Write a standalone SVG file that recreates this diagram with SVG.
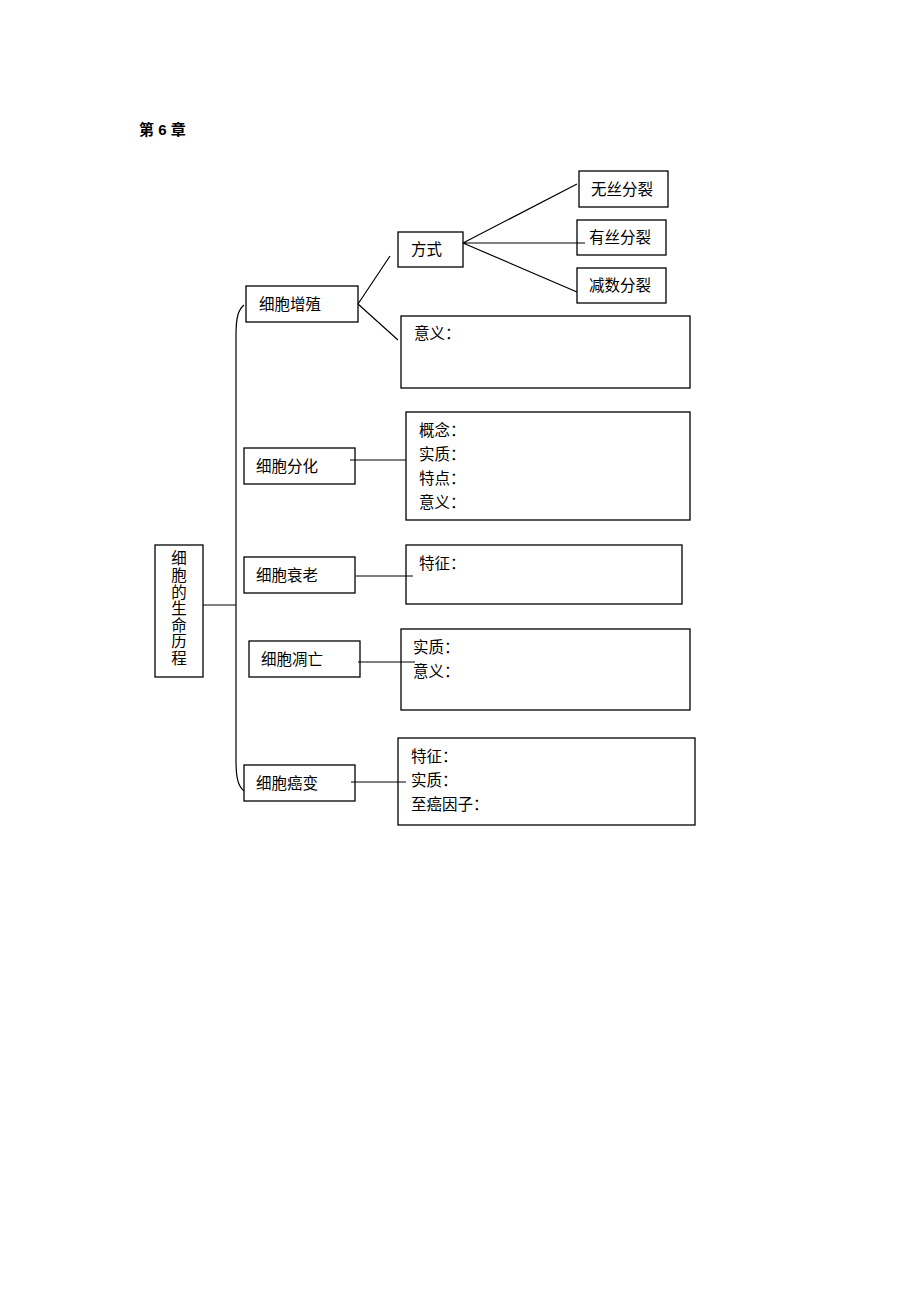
<svg xmlns="http://www.w3.org/2000/svg" width="920" height="1302" viewBox="0 0 920 1302">
<style>
.b{fill:#fff;stroke:#000;stroke-width:1.3}
.c{fill:none;stroke:#000;stroke-width:1.2}
text{font-family:"Liberation Serif","Noto Sans CJK SC",serif;font-size:15.5px;fill:#000}
.t{font-family:"Liberation Sans","Noto Sans CJK SC",sans-serif;font-weight:bold;font-size:15px}
</style>
<rect width="920" height="1302" fill="#fff"/>
<text class="t" x="139" y="135">第 6 章</text>
<g id="root"><rect class="b" x="155" y="545" width="48" height="132"/>
<text x="179" text-anchor="middle"><tspan x="179" y="564">细</tspan><tspan x="179" y="581">胞</tspan><tspan x="179" y="598">的</tspan><tspan x="179" y="614">生</tspan><tspan x="179" y="631">命</tspan><tspan x="179" y="647">历</tspan><tspan x="179" y="664">程</tspan></text></g>
<g id="zengzhi"><rect class="b" x="246" y="286" width="112" height="36"/><text x="259" y="310">细胞增殖</text></g>
<g id="fangshi"><rect class="b" x="398" y="232" width="65" height="35"/><text x="411" y="255">方式</text></g>
<g id="wusi"><rect class="b" x="579" y="171" width="89" height="36"/><text x="591" y="195">无丝分裂</text></g>
<g id="yousi"><rect class="b" x="577" y="220" width="89" height="35"/><text x="589" y="243">有丝分裂</text></g>
<g id="jianshu"><rect class="b" x="577" y="268" width="89" height="35"/><text x="589" y="291">减数分裂</text></g>
<g id="yiyi"><rect class="b" x="401" y="316" width="289" height="72"/><text x="414" y="339">意义：</text></g>
<g id="fenhua"><rect class="b" x="244" y="448" width="111" height="36"/><text x="256" y="472">细胞分化</text></g>
<g id="fenhua-box"><rect class="b" x="406" y="412" width="284" height="108"/>
<text x="419" y="436">概念：</text><text x="419" y="460">实质：</text><text x="419" y="484">特点：</text><text x="419" y="508">意义：</text></g>
<g id="shuailao"><rect class="b" x="244" y="557" width="111" height="36"/><text x="256" y="581">细胞衰老</text></g>
<g id="shuailao-box"><rect class="b" x="406" y="545" width="276" height="59"/><text x="419" y="569">特征：</text></g>
<g id="diaowang"><rect class="b" x="249" y="641" width="111" height="36"/><text x="261" y="665">细胞凋亡</text></g>
<g id="diaowang-box"><rect class="b" x="401" y="629" width="289" height="81"/><text x="413" y="653">实质：</text><text x="413" y="677">意义：</text></g>
<g id="aibian"><rect class="b" x="244" y="765" width="111" height="36"/><text x="256" y="789">细胞癌变</text></g>
<g id="aibian-box"><rect class="b" x="398" y="738" width="297" height="87"/><text x="411" y="762">特征：</text><text x="411" y="786">实质：</text><text x="411" y="810">至癌因子：</text></g>
<g id="connectors">
<path class="c" d="M203 605H236"/>
<path class="c" d="M244 305C238 310 236 318 236 335V760C236 778 238 786 244 791"/>
<path class="c" d="M358 304L390 256M358 304L398 340"/>
<path class="c" d="M463 243L577 184M463 243H585M463 243L577 292"/>
<path class="c" d="M350 460H406M356 576H413M358 662H415M351 782H406"/>
</g>
</svg>
